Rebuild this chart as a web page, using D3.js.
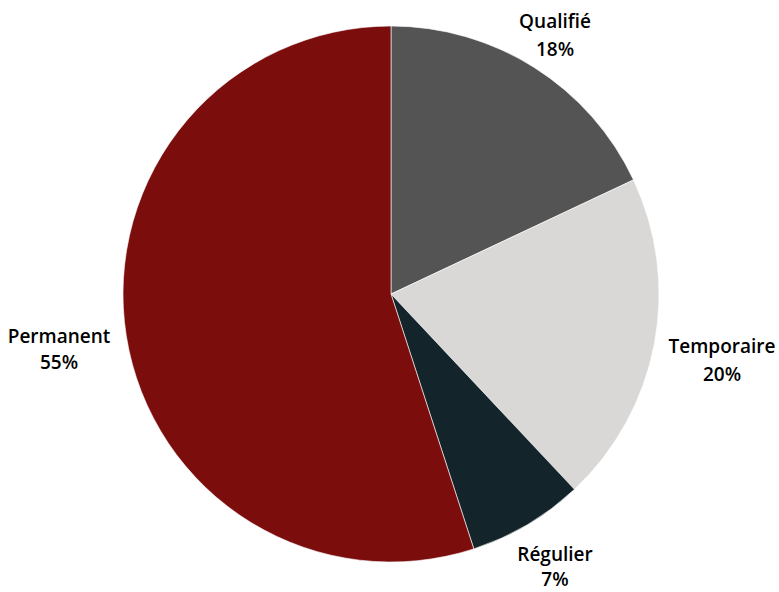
<!DOCTYPE html>
<html><head><meta charset="utf-8">
<script src="https://cdn.jsdelivr.net/npm/d3@7"></script>
<style>body{margin:0;background:#fff}svg{display:block}</style>
</head><body>
<svg id="c" width="779" height="592"></svg>
<script>
const categories = ["Qualifié", "Temporaire", "Régulier", "Permanent"];
const values = [18, 20, 7, 55];
const colors = ["#545454", "#d9d8d7", "#13242a", "#7b0d0d"];
// label layout: [x centre, baseline line 1, baseline line 2]
const labelLayout = [[555, 28, 56], [722, 353, 381], [555, 561, 586], [59, 343, 369]];

const svg = d3.select("#c");
const cx = 391, cy = 294, r = 268;
const data = categories.map((c, i) => ({cat: c, v: values[i], col: colors[i], lp: labelLayout[i]}));
const pie = d3.pie().value(d => d.v).sort(null);
const arc = d3.arc().innerRadius(0).outerRadius(r);
const g = svg.append("g").attr("transform", `translate(${cx},${cy})`);
g.selectAll("path").data(pie(data)).enter().append("path")
  .attr("d", arc).attr("fill", d => d.data.col)
  .attr("stroke", "#ffffff").attr("stroke-width", 0.6);

const lab = svg.selectAll("text.l").data(data).enter().append("text")
  .attr("class", "l")
  .attr("text-anchor", "middle")
  .attr("font-family", "'Open Sans', sans-serif")
  .attr("font-weight", 600)
  .attr("font-size", 19)
  .attr("fill", "#000");
lab.append("tspan").attr("x", d => d.lp[0]).attr("y", d => d.lp[1]).text(d => d.cat);
lab.append("tspan").attr("x", d => d.lp[0]).attr("y", d => d.lp[2]).text(d => d.v + "%");
</script>
</body></html>
